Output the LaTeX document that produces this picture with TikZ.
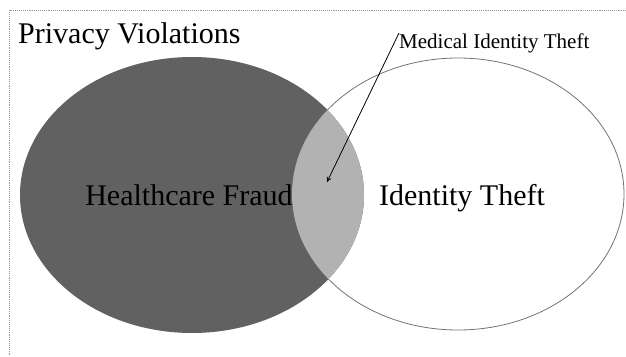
\documentclass[tikz,border=0pt]{standalone}
\usepackage{fontspec}
\setmainfont{Liberation Serif}
\newfontfamily\vennfont{Liberation Serif}
\usetikzlibrary{arrows.meta}

\begin{document}
\begin{tikzpicture}[x=1pt, y=-1pt]
            \useasboundingbox (0, 0) rectangle (626, 356);
            % frame
            \draw[black!40, densely dotted, line width=0.9pt] (626, 10) -- (9, 10) -- (9, 356);
            % identity theft outline
            \draw[black!55, line width=0.8pt] (458, 194) ellipse [x radius=166, y radius=136];
            % healthcare fraud
            \fill[black!62] (192, 195) ellipse [x radius=172, y radius=138];
            \begin{scope}
                \clip (192, 195) ellipse [x radius=172, y radius=138];
                \fill[black!30] (458, 194) ellipse [x radius=166, y radius=136];
            \end{scope}
            \node[anchor=base west, inner sep=0, font=\vennfont\fontsize{30pt}{36pt}\selectfont] (privacy) at (18, 43) {Privacy Violations};
            \node[anchor=base, inner sep=0, font=\vennfont\fontsize{30pt}{36pt}\selectfont] (fraud) at (189, 205) {Healthcare Fraud};
            \node[anchor=base, inner sep=0, font=\vennfont\fontsize{30pt}{36pt}\selectfont] (identity) at (462, 205) {Identity Theft};
            \node[anchor=base west, inner sep=0, font=\vennfont\fontsize{21pt}{25pt}\selectfont] (medical) at (399, 48) {Medical Identity Theft};
            \coordinate (overlap) at (327, 182);
            \draw[-{To[length=5pt, width=5pt]}, line width=0.8pt] (medical.north west) -- (overlap);
        \end{tikzpicture}
\end{document}
